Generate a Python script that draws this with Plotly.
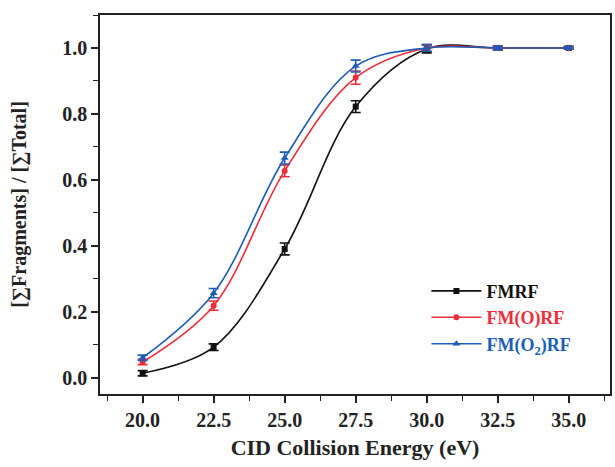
import plotly.graph_objects as go

energy = [20.0, 22.5, 25.0, 27.5, 30.0, 32.5, 35.0]

fmrf = [0.013, 0.092, 0.390, 0.822, 0.997, 1.000, 1.000]
fmrf_err = [0.008, 0.010, 0.018, 0.018, 0.012, 0.006, 0.004]

fmorf = [0.047, 0.218, 0.627, 0.910, 1.000, 1.000, 1.000]
fmorf_err = [0.008, 0.014, 0.018, 0.020, 0.010, 0.006, 0.004]

fmo2rf = [0.060, 0.256, 0.666, 0.945, 1.000, 1.000, 1.000]
fmo2rf_err = [0.008, 0.014, 0.018, 0.018, 0.010, 0.006, 0.004]

series_names = ["FMRF", "FM(O)RF", "FM(O<sub>2</sub>)RF"]
series_colors = ["#111111", "#ee2d3a", "#1c5db8"]
series_symbols = ["square", "circle", "triangle-up"]

FONT = "Liberation Serif"

fig = go.Figure()
for name, color, symbol, vals, err in zip(
    series_names, series_colors, series_symbols,
    [fmrf, fmorf, fmo2rf], [fmrf_err, fmorf_err, fmo2rf_err],
):
    fig.add_trace(go.Scatter(
        x=energy, y=vals,
        mode="lines+markers",
        name=f"<span style='color:{color}'><b>{name}</b></span>",
        line=dict(color=color, width=1.6, shape="spline", smoothing=1.0),
        marker=dict(color=color, symbol=symbol, size=6 if symbol != "triangle-up" else 7),
        error_y=dict(type="data", array=err, color=color, thickness=1.6, width=5),
    ))

axis_common = dict(
    showline=True, linecolor="#222222", linewidth=1.5, mirror=True,
    showgrid=False, zeroline=False,
    ticks="outside", ticklen=7, tickwidth=1.5, tickcolor="#222222",
    tickfont=dict(family=FONT, size=20, color="#222222", weight="bold"),
)

fig.update_xaxes(
    **axis_common,
    range=[18.5, 36.45],
    tick0=20, dtick=2.5, tickformat=".1f",
    minor=dict(ticks="outside", ticklen=5, tickwidth=1.2, tickcolor="#222222", dtick=1.25, tick0=20),
    title=dict(text="<b>CID Collision Energy (eV)</b>", font=dict(family=FONT, size=22, color="#222222"), standoff=10),
)
fig.update_yaxes(
    **axis_common,
    range=[-0.05, 1.1],
    tick0=0, dtick=0.2, tickformat=".1f",
    minor=dict(ticks="outside", ticklen=5, tickwidth=1.2, tickcolor="#222222", dtick=0.1, tick0=0),
    title=dict(text="<b>[∑Fragments] / [∑Total]</b>", font=dict(family=FONT, size=20, color="#222222"), standoff=30),
)

fig.update_layout(
    width=615, height=467,
    font=dict(family=FONT, color="#222222"),
    margin=dict(l=100, r=3, t=15, b=73),
    paper_bgcolor="white", plot_bgcolor="white",
    showlegend=True,
    legend=dict(
        x=0.64, y=0.32, xanchor="left", yanchor="top",
        bgcolor="rgba(0,0,0,0)",
        font=dict(family=FONT, size=18),
        tracegroupgap=0, itemwidth=50,
    ),
)

fig.write_html("out.html")
